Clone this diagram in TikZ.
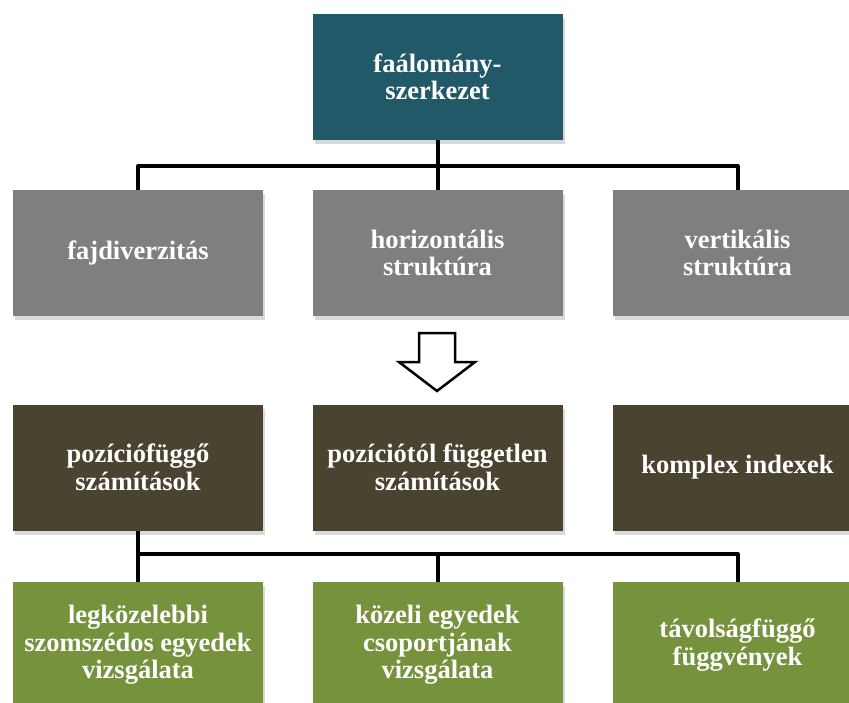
\documentclass[tikz,border=0pt]{standalone}
\usepackage{fontspec}
\setmainfont{Liberation Serif}
\usepackage{tikz}
\usetikzlibrary{shadows}
\tikzset{>=stealth}
\definecolor{petrol}{HTML}{215968}
\definecolor{graybox}{HTML}{7F7F7F}
\definecolor{olivebox}{HTML}{4A4330}
\definecolor{greenbox}{HTML}{76923C}
\tikzset{
  box/.style={minimum width=250pt, minimum height=126pt, inner sep=0pt,
    align=center, text=white, font=\fontsize{26.5}{27.5}\selectfont\bfseries,
    drop shadow={shadow xshift=2pt, shadow yshift=-4pt, opacity=.3}},
  conn/.style={line width=4pt, line join=round}
}

\begin{document}
\begin{tikzpicture}[x=1pt,y=-1pt]
	\clip (0,0) rectangle (849,702);
	\node [box, fill=petrol] (fa) at (437.5,77) {faálomány-\\szerkezet};
	\node [box, fill=graybox] (fajdiv) at (138,253) {fajdiverzitás};
	\node [box, fill=graybox] (horiz) at (437.5,253) {horizontális\\struktúra};
	\node [box, fill=graybox] (vert) at (737.5,253) {vertikális\\struktúra};
	\node [box, fill=olivebox] (poz) at (138,467.5) {pozíciófüggő\\számítások};
	\node [box, fill=olivebox] (pozf) at (437.5,467.5) {pozíciótól független\\számítások};
	\node [box, fill=olivebox] (komplex) at (737.5,467.5) {komplex indexek};
	\node [box, fill=greenbox] (legk) at (138,645) {legközelebbi\\szomszédos egyedek\\vizsgálata};
	\node [box, fill=greenbox] (kozeli) at (437.5,645) {közeli egyedek\\csoportjának\\vizsgálata};
	\node [box, fill=greenbox] (tav) at (737.5,645) {távolságfüggő\\függvények};
	\coordinate (bar1) at (437.5,166);
	\coordinate (bar2) at (437.5,554);
	\draw [conn] (fa.south) -- (horiz.north);
	\draw [conn] (fajdiv.north) |- (bar1) -| (vert.north);
	\draw [conn] (poz.south) -- (legk.north);
	\draw [conn] (poz.south |- bar2) -| (tav.north);
	\draw [conn] (bar2) -- (kozeli.north);
	\draw [line width=2.5pt, fill=white, line join=miter] (419,333) -- (455,333) -- (455,362) -- (475,362) -- (437,391) -- (399,362) -- (419,362) -- cycle;
\end{tikzpicture}
\end{document}
